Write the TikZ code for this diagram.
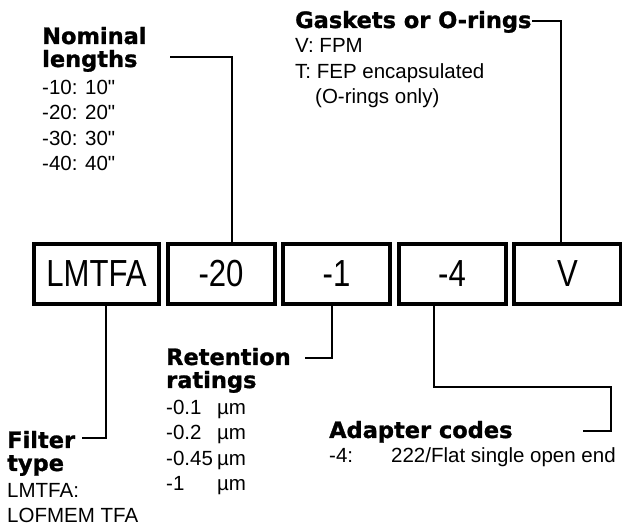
\documentclass[tikz,border=0pt]{standalone}
\usepackage{fontspec}
\usetikzlibrary{positioning}
\newfontfamily\bodyfont{Liberation Sans}
\newfontfamily\boxfont{Liberation Sans}[FakeStretch=0.825]
\newfontfamily\headfont{DejaVu Sans}[BoldFeatures={FakeBold=1.2}]

\begin{document}
\begin{tikzpicture}[x=1pt, y=-1pt, node distance=4.5pt,
    codebox/.style={draw, line width=4pt, minimum width=107pt, minimum height=60pt, inner sep=0pt, font=\boxfont\fontsize{37.7}{40}\selectfont},
    headtext/.style={anchor=base west, align=left, inner sep=0pt, font=\headfont\bfseries\fontsize{22.5}{23}\selectfont},
    bodytext/.style={anchor=base west, align=left, inner sep=0pt, font=\bodyfont\fontsize{20.5}{25.5}\selectfont},
    leadline/.style={line width=2pt}]
        \useasboundingbox (0,0) rectangle (622,526);

        \node[codebox, minimum width=125pt] (lmtfa) at (96.5,274) {LMTFA};
        \node[codebox, right=of lmtfa] (len) {-20};
        \node[codebox, right=of len] (ret) {-1};
        \node[codebox, right=of ret] (adp) {-4};
        \node[codebox, right=of adp] (gsk) {V};

        \node[headtext] (nomhead) at (42,67) {Nominal\\lengths};
        \node[bodytext] (nombody) at (42,171) {-10: 10"\\-20: 20"\\-30: 30"\\-40: 40"};
        \node[headtext] (gskhead) at (295,28) {Gaskets or O-rings};
        \node[bodytext] (gskbody) at (295,104) {V: FPM\\T: FEP encapsulated\\\hspace*{20pt}(O-rings only)};
        \node[headtext] (rethead) at (166,388) {Retention\\ratings};
        \node[bodytext] (retbody) at (166,491) {\makebox[51pt][l]{-0.1}µm\\\makebox[51pt][l]{-0.2}µm\\\makebox[51pt][l]{-0.45}µm\\\makebox[51pt][l]{-1}µm};
        \node[headtext] (filhead) at (7,471) {Filter\\type};
        \node[bodytext] (filbody) at (7,523) {LMTFA:\\LOFMEM TFA};
        \node[headtext] (adphead) at (329,438) {Adapter codes};
        \node[bodytext] (adpbody) at (329,463) {\makebox[62pt][l]{-4:}222/Flat single open end};

        \coordinate (nomend) at (170,57);
        \coordinate (gskend) at (532,21);
        \coordinate (retend) at (305,358);
        \coordinate (filend) at (82,438);
        \coordinate (adpbend) at (611,387);
        \coordinate (adpend) at (583,431);

        \draw[leadline]
            (nomend) -| ([xshift=11pt]len.north)
            (gskend) -| ([xshift=-7pt]gsk.north)
            ([xshift=9.5pt]lmtfa.south) |- (filend)
            ([xshift=-4.5pt]ret.south) |- (retend)
            ([xshift=-18.5pt]adp.south) |- (adpbend) |- (adpend);
    \end{tikzpicture}
\end{document}
